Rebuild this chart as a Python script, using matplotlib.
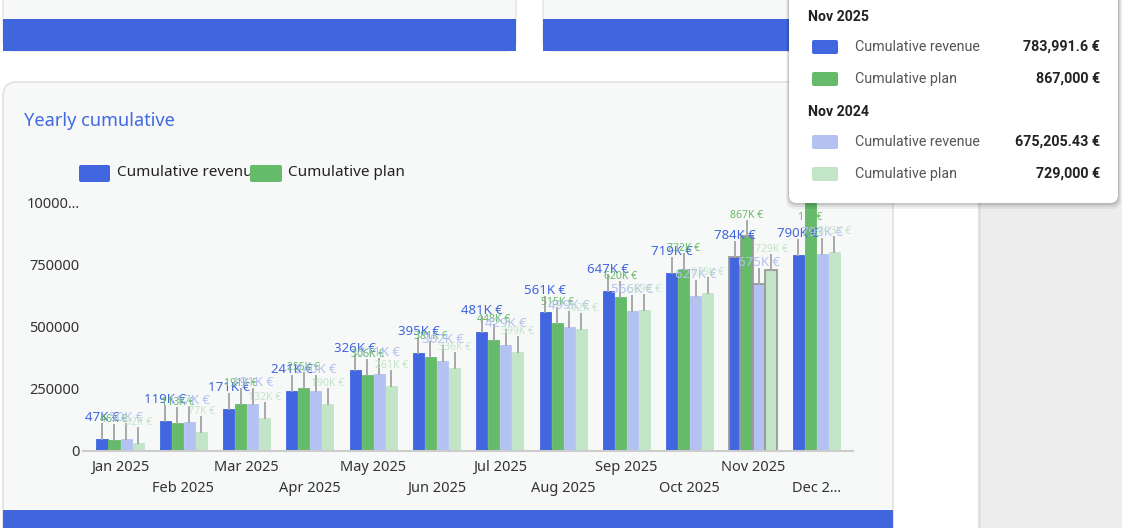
import matplotlib
matplotlib.use("Agg")
import matplotlib.pyplot as plt
import matplotlib.transforms as mtransforms
from matplotlib.patches import Rectangle, FancyBboxPatch
import numpy as np

# chart data (Nov exact from tooltip)
months = ['Jan 2025', 'Feb 2025', 'Mar 2025', 'Apr 2025', 'May 2025', 'Jun 2025',
          'Jul 2025', 'Aug 2025', 'Sep 2025', 'Oct 2025', 'Nov 2025', 'Dec 2...']
rev_2025 = [47000, 119000, 171000, 241000, 326000, 395000,
            481000, 561000, 647000, 719000, 783991.6, 790000]
plan_2025 = [46000, 113000, 191000, 255000, 306000, 381000,
             448000, 515000, 620000, 732000, 867000, 1000000]
rev_2024 = [50000, 117000, 191000, 240000, 311000, 362000,
            429000, 499000, 566000, 627000, 675205.43, 793000]
plan_2024 = [32000, 77000, 132000, 190000, 261000, 336000,
             399000, 492000, 569000, 639000, 729000, 803000]
y_ticks = [0, 250000, 500000, 750000, 1000000]
y_tick_labels = ['0', '250000', '500000', '750000', '10000...']
highlight = 10  # hovered month (Nov 2025)

BLUE = '#4166DF'
GREEN = '#66BB6A'
LBLUE = '#B3C2F1'
LGREEN = '#C2E5C8'
series = [(rev_2025, BLUE, 9.5), (plan_2025, GREEN, 7.5),
          (rev_2024, LBLUE, 9.5), (plan_2024, LGREEN, 7.5)]

plt.rcParams['font.family'] = ['Noto Sans', 'DejaVu Sans']

fig = plt.figure(figsize=(11.22, 5.28), dpi=100)
fig.patch.set_facecolor('white')

# page background / cards in pixel coordinates
bg = fig.add_axes([0, 0, 1, 1], zorder=0)
bg.set_xlim(0, 1122)
bg.set_ylim(528, 0)
bg.axis('off')

bg.add_patch(Rectangle((980, 0), 142, 528, fc='#EDEDED', ec='none'))
bg.add_patch(Rectangle((978, 0), 3, 528, fc='#E0E0E0', ec='none'))

for x0, x1 in [(3, 516), (543, 893)]:
    bg.add_patch(FancyBboxPatch((x0, -30), x1 - x0, 81,
                                boxstyle='round,pad=0,rounding_size=10',
                                fc='#F7F8F8', ec='#E3E3E3', lw=1))
    bg.add_patch(Rectangle((x0, 19), x1 - x0, 32, fc='#4065DD', ec='none'))

bg.add_patch(FancyBboxPatch((3, 82), 890, 470,
                            boxstyle='round,pad=0,rounding_size=14',
                            fc='#F7F8F8', ec='#E2E2E2', lw=1.2))
bg.add_patch(Rectangle((3, 510), 890, 18, fc='#4065DD', ec='none'))

bg.text(24, 121, 'Yearly cumulative', color='#4169E1', fontsize=13.1,
        va='center', ha='left')

# legend (second swatch sits over the end of the first label, as in the app)
bg.add_patch(FancyBboxPatch((79, 165), 31, 17, boxstyle='round,pad=0,rounding_size=2',
                            fc=BLUE, ec='none'))
bg.text(117, 173, 'Cumulative revenue', color='#222222', fontsize=11,
        va='center', ha='left', zorder=2)
bg.add_patch(FancyBboxPatch((250, 165), 32, 17, boxstyle='round,pad=0,rounding_size=2',
                            fc=GREEN, ec='none', zorder=3))
bg.add_patch(Rectangle((282, 160), 5, 26, fc='#F7F8F8', ec='none', zorder=2.5))
bg.text(288, 173, 'Cumulative plan', color='#222222', fontsize=11,
        va='center', ha='left', zorder=3)

# chart
ax = fig.add_axes([83 / 1122, 77 / 528, 770 / 1122, 248 / 528], zorder=1)
ax.set_facecolor('none')
ax.set_xlim(-0.585, 11.58)
ax.set_ylim(0, 1000000)

x = np.arange(len(months))
step = 0.19
width = 0.175
line_tr = mtransforms.offset_copy(ax.transData, fig=fig, x=0, y=15, units='dots')

for i, (vals, col, fs) in enumerate(series):
    xs = x + (i - 1.5) * step
    ecs = ['#9A9A9A' if k == highlight else col for k in range(len(vals))]
    lws = [1.3 if k == highlight else 0.6 for k in range(len(vals))]
    ax.bar(xs, vals, width=width, color=col, edgecolor=ecs, linewidth=lws,
           zorder=2, clip_on=False)
    for xv, v in zip(xs, vals):
        if v >= 1000000:
            lab = f"{v / 1e6:g}M €"
            ax.text(xv, 860000, lab, color=col, fontsize=fs, ha='center',
                    va='bottom', transform=line_tr, zorder=4)
            continue
        lab = f"{round(v / 1000):.0f}K €"
        top = ax.transData.transform((xv, v))[1]
        y_top = ax.transData.inverted().transform((0, top + 15))[1]
        ax.plot([xv, xv], [v, y_top], color='#A8A8A8', lw=1.4, zorder=3)
        ax.text(xv, v, lab, color=col, fontsize=fs, ha='center', va='bottom',
                transform=line_tr, zorder=4)

ax.set_yticks(y_ticks, y_tick_labels)
ax.set_xticks(x[0::2], months[0::2])
ax.set_xticks(x[1::2], months[1::2], minor=True)
ax.tick_params(axis='y', length=0, pad=2.5, labelsize=10.5, labelcolor='#333333')
ax.tick_params(axis='x', which='major', length=0, pad=6.5, labelsize=10.5,
               labelcolor='#333333')
ax.tick_params(axis='x', which='minor', length=0, pad=21.5, labelsize=10.5,
               labelcolor='#333333')
for s in ['top', 'right', 'left']:
    ax.spines[s].set_visible(False)
ax.spines['bottom'].set_color('#CCCCCC')
ax.spines['bottom'].set_linewidth(1.5)

# tooltip overlay
tip = fig.add_axes([0, 0, 1, 1], zorder=5)
tip.set_xlim(0, 1122)
tip.set_ylim(528, 0)
tip.axis('off')
tip.patch.set_alpha(0)
for d, a in [(6, 0.05), (4, 0.07), (2, 0.1)]:
    tip.add_patch(FancyBboxPatch((789 - d / 2, -30), 329 + d, 233 + d,
                                 boxstyle='round,pad=0,rounding_size=9',
                                 fc='black', ec='none', alpha=a))
tip.add_patch(FancyBboxPatch((789, -30), 329, 233,
                             boxstyle='round,pad=0,rounding_size=8',
                             fc='white', ec='none'))


def fmt_eur(v):
    s = f"{v:,.2f}".rstrip('0').rstrip('.')
    return s + ' €'


rows = [('Nov 2025', 17, [(BLUE, 'Cumulative revenue', rev_2025[highlight], 47),
                          (GREEN, 'Cumulative plan', plan_2025[highlight], 79)]),
        ('Nov 2024', 112, [(LBLUE, 'Cumulative revenue', rev_2024[highlight], 142),
                           (LGREEN, 'Cumulative plan', plan_2024[highlight], 174)])]
tfam = ['Roboto', 'DejaVu Sans']
for head, hy, items in rows:
    tip.text(808, hy, head, fontsize=10.2, fontweight='bold', color='#222222',
             va='center', ha='left', family=tfam)
    for col, name, val, yy in items:
        tip.add_patch(FancyBboxPatch((812, yy - 7), 26, 14,
                                     boxstyle='round,pad=0,rounding_size=2',
                                     fc=col, ec='none'))
        tip.text(855, yy, name, fontsize=10.3, color='#555555', va='center',
                 ha='left', family=tfam)
        tip.text(1100, yy, fmt_eur(val), fontsize=10.3, fontweight='bold',
                 color='#222222', va='center', ha='right', family=tfam)

fig.savefig('out.png', dpi=100)
